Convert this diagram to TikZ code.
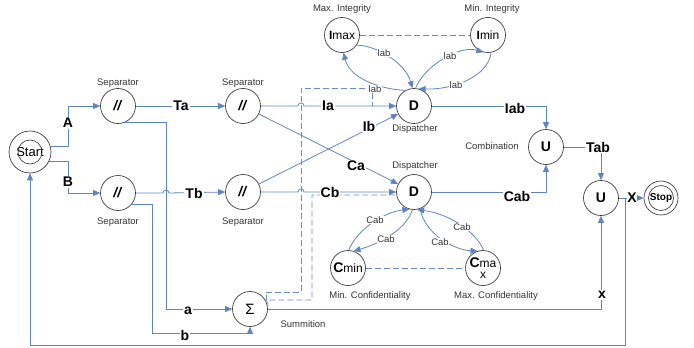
\documentclass[tikz,border=0pt]{standalone}
\usepackage{fontspec}
\setmainfont{Liberation Sans}
\usetikzlibrary{arrows.meta}
\definecolor{ln}{HTML}{5F84C2}
\definecolor{dl}{HTML}{6A8CC4}
\begin{document}
\begin{tikzpicture}[x=1pt,y=-1pt,
  proc/.style={circle,draw=black!80,line width=0.65pt,minimum size=35pt,inner sep=0pt,fill=white,font=\fontsize{14}{14}\selectfont\bfseries},
  conn/.style={draw=ln,line width=0.8pt},
  arr/.style={conn,-{Triangle[length=7pt,width=6pt]}},
  dsh/.style={draw=dl,line width=0.8pt,dash pattern=on 6pt off 3pt},
  big/.style={font=\fontsize{14}{14}\selectfont\bfseries,fill=white,inner sep=1pt},
  captxt/.style={font=\fontsize{9.5}{10}\selectfont,text=black!80,inner sep=0pt},
  clab/.style={font=\fontsize{9.5}{10}\selectfont,text=black!80,fill=white,inner sep=0.5pt},
]
\useasboundingbox (0,0) rectangle (694,348);

% ---------- nodes ----------
\node[proc,minimum size=42pt,font=\fontsize{13}{13}\selectfont] (Start) at (30,152) {Start};
\node[proc] (S1) at (118,106) {\textit{//}};
\node[proc] (S2) at (118,193) {\textit{//}};
\node[proc] (S3) at (243,106) {\textit{//}};
\node[proc] (S4) at (243,192) {\textit{//}};
\node[proc] (Dt) at (414,106) {D};
\node[proc] (Db) at (414,192) {D};
\node[proc,font=\fontsize{12}{12}\selectfont] (Imax) at (342,35) {\textbf{I}max};
\node[proc,font=\fontsize{12}{12}\selectfont] (Imin) at (488,35) {\textbf{I}min};
\node[proc,font=\fontsize{12}{12}\selectfont] (Cmin) at (348,268) {{\fontsize{14}{14}\selectfont\textbf{C}}min};
\node[proc,font=\fontsize{12}{11}\selectfont,align=center] (Cmax) at (483,268) {{\fontsize{14}{14}\selectfont\textbf{C}}ma\\x};
\node[proc] (Uc) at (546,147) {U};
\node[proc] (Uf) at (601,198) {U};
\node[proc,minimum size=34pt,font=\fontsize{10}{10}\selectfont\bfseries] (Stop) at (661,198) {Stop};
\node[proc,font=\fontsize{15}{15}\selectfont] (Sig) at (250,309) {Σ};
\draw[black!80,line width=0.65pt] (Start.center) circle[radius=12pt];
\draw[black!80,line width=0.65pt] (Stop.center) circle[radius=12.5pt];

% ---------- captions ----------
\node[captxt] (c1) at (118,83) {Separator};
\node[captxt] (c2) at (243,83) {Separator};
\node[captxt] (c3) at (118,222) {Separator};
\node[captxt] (c4) at (243,222) {Separator};
\node[captxt] (c5) at (415,129) {Dispatcher};
\node[captxt] (c6) at (415,166) {Dispatcher};
\node[captxt] (c7) at (342,9) {Max. Integrity};
\node[captxt] (c8) at (492,9) {Min. Integrity};
\node[captxt] (c9) at (492,146) {Combination};
\node[captxt] (c10) at (303,324) {Summition};
\node[captxt] (c11) at (370,296) {Min. Confidentiality};
\node[captxt] (c12) at (496,296) {Max. Confidentiality};

% ---------- dashed ----------
\draw[dsh] (Imax.east) -- (Imin.west);
\draw[dsh] (Cmin.east) -- (Cmax.west);
\draw[dsh] (Sig.25) |- (301,292) -- (301,88) -- (372,88) -- (372,106);
\draw[dsh] (Sig.5) |- (312,300) -- (312,195) -- (Db.190);

% ---------- connectors ----------
\draw[arr] (Start.15) -| (68,106) -- (S1.west);
\draw[arr] (Start.-25) -| (68,193) -- (S2.west);
\draw[arr] (S1.east) -- (S3.west);
\draw[arr] (S2.east) -- (163,193) arc[start angle=180,end angle=0,radius=3pt] -- (S4.west);
\draw[arr] (S1.-70) -| (166,309) -- (Sig.west);
\draw[arr] (S2.-40) -| (152,333) -| (Sig.south);
\draw[arr] (S3.east) -- (298,106) arc[start angle=180,end angle=0,radius=3pt] -- (Dt.west);
\draw[arr] (S4.east) -- (298,192) arc[start angle=180,end angle=0,radius=3pt] -- (Db.west);
\draw[arr] (S3) -- (Db);
\draw[arr] (S4) -- (Dt);
\draw[arr] (Dt.east) -| (Uc.north);
\draw[arr] (Db.east) -| (Uc.south);
\draw[arr] (Uc.east) -| (Uf.north);
\draw[arr] (Uf.east) -- (Stop.west);
\coordinate (fb) at (625,198);
\draw[arr] (fb) -- (625,345) -| (Start.south);
\draw[arr] (Sig.east) -| (Uf.south);

% integrity loops
\draw[arr] (Dt.118) .. controls (385,90) and (350,80) .. (Imax.-85);
\draw[arr] (Imax.-35) .. controls (375,45) and (405,62) .. (Dt.95);
\draw[arr] (Dt.85) .. controls (425,65) and (460,45) .. (Imin.-105);
\draw[arr] (Imin.-80) .. controls (488,78) and (450,90) .. (Dt.75);
% confidentiality loops
\draw[arr] (Cmin.88) .. controls (358,228) and (385,212) .. (Db.-105);
\draw[arr] (Db.-95) .. controls (405,232) and (375,245) .. (Cmin.72);
\draw[arr] (Cmax.88) .. controls (476,232) and (450,214) .. (Db.-80);
\draw[arr] (Db.-70) .. controls (425,235) and (455,250) .. (Cmax.108);

% ---------- labels ----------
\node[big] (lA) at (68,123) {A};
\node[big] (lB) at (68,182) {B};
\node[big] (lTa) at (181,106) {Ta};
\node[big] (lTb) at (194,193) {Tb};
\node[big] (la) at (188,311) {a};
\node[big] (lb) at (185,335) {b};
\node[big] (lIa) at (328,106) {Ia};
\node[big] (lIb) at (369,126) {Ib};
\node[big] (lCa) at (356,166) {Ca};
\node[big] (lCb) at (330,192) {Cb};
\node[big] (lIab) at (515,108) {Iab};
\node[big] (lCab) at (517,196) {Cab};
\node[big] (lTab) at (598,147) {Tab};
\node[big,inner sep=0.3pt] (lX) at (632,198) {X};
\node[big] (lx) at (602,295) {x};

\node[clab] (k1) at (375,89) {lab};
\node[clab] (k2) at (384,53) {lab};
\node[clab] (k3) at (450,56) {lab};
\node[clab] (k4) at (456,85) {lab};
\node[clab] (k5) at (375,220) {Cab};
\node[clab] (k6) at (386,239) {Cab};
\node[clab] (k7) at (462,227) {Cab};
\node[clab] (k8) at (440,242) {Cab};
\end{tikzpicture}
\end{document}
